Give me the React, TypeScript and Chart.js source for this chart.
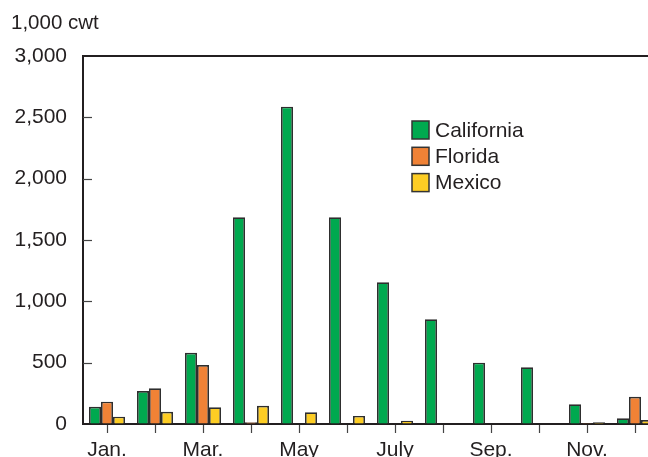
import React, { useEffect, useRef } from "react";
import { Chart, registerables } from "chart.js";

Chart.register(...registerables);

const months = ["Jan.", "Feb.", "Mar.", "Apr.", "May", "June", "July", "Aug.", "Sep.", "Oct.", "Nov.", "Dec."];
const california = [141, 269, 581, 1685, 2587, 1685, 1155, 853, 500, 462, 160, 46];
const florida = [182, 291, 481, 15, 0, 0, 0, 0, 0, 0, 8, 222];
const mexico = [60, 100, 136, 149, 95, 66, 27, 0, 0, 4, 14, 33];
const yTicks = [0, 500, 1000, 1500, 2000, 2500, 3000];
const unitLabel = "1,000 cwt";

const FONT = "'Liberation Sans', Arial, Helvetica, sans-serif";
const TEXT = "#231f20";

const decorPlugin = {
  id: "decor",
  afterDraw(chart: any) {
    const { ctx, chartArea, scales } = chart;
    const y = scales.y;
    ctx.save();
    // top border
    ctx.strokeStyle = "#231f20";
    ctx.lineWidth = 2;
    ctx.beginPath();
    ctx.moveTo(chartArea.left - 1, chartArea.top);
    ctx.lineTo(chartArea.right, chartArea.top);
    ctx.stroke();
    // inward y ticks
    ctx.lineWidth = 1.2;
    ctx.strokeStyle = "#444";
    yTicks.forEach((v) => {
      if (v === 0 || v === 3000) return;
      const py = Math.round(y.getPixelForValue(v)) + 0.5;
      ctx.beginPath();
      ctx.moveTo(chartArea.left, py);
      ctx.lineTo(chartArea.left + 9, py);
      ctx.stroke();
    });
    // unit label
    ctx.fillStyle = TEXT;
    ctx.font = `20.5px ${FONT}`;
    ctx.textAlign = "left";
    ctx.textBaseline = "alphabetic";
    ctx.fillText(unitLabel, 11, 29);
    // legend
    const ds = chart.data.datasets;
    const lx = 412;
    const ly0 = 121;
    ds.forEach((d: any, i: number) => {
      const by = ly0 + i * 26.3;
      ctx.fillStyle = d.backgroundColor;
      ctx.fillRect(lx, by, 17, 18);
      ctx.strokeStyle = "#333";
      ctx.lineWidth = 1.5;
      ctx.strokeRect(lx, by, 17, 18);
      ctx.fillStyle = TEXT;
      ctx.font = `21px ${FONT}`;
      ctx.textBaseline = "middle";
      ctx.fillText(d.label, lx + 23, by + 10);
    });
    ctx.restore();
  },
};

export default function App() {
  const ref = useRef<HTMLCanvasElement>(null);
  useEffect(() => {
    if (!ref.current) return;
    const chart = new Chart(ref.current, {
      type: "bar",
      data: {
        labels: months,
        datasets: [
          { label: "California", data: california, backgroundColor: "#00a94f", borderColor: "#2e2e2e", borderWidth: 1.7 },
          { label: "Florida", data: florida, backgroundColor: "#f08236", borderColor: "#2e2e2e", borderWidth: 1.7 },
          { label: "Mexico", data: mexico, backgroundColor: "#fdcd24", borderColor: "#2e2e2e", borderWidth: 1.7 },
        ],
      },
      options: {
        responsive: false,
        animation: false,
        layout: { padding: { top: 56, right: 21, left: 0, bottom: 0 } },
        datasets: { bar: { categoryPercentage: 0.75, barPercentage: 1 } } as any,
        plugins: { legend: { display: false }, tooltip: { enabled: false }, title: { display: false } },
        scales: {
          x: {
            offset: true,
            grid: { display: true, drawOnChartArea: false, offset: false, tickLength: 9, tickColor: "#444", tickWidth: 1.2 } as any,
            border: { display: true, color: "#231f20", width: 2 },
            ticks: {
              autoSkip: false,
              maxRotation: 0,
              padding: 5,
              color: TEXT,
              font: { family: FONT, size: 21 },
              callback: (_v: any, i: number) => (i % 2 === 0 ? months[i] : ""),
            },
            afterFit: (s: any) => { s.height = 46; },
          },
          y: {
            min: 0,
            max: 3000,
            grid: { display: true, drawOnChartArea: false, drawTicks: true, tickLength: 8, tickColor: "rgba(0,0,0,0)" },
            border: { display: true, color: "#231f20", width: 2 },
            ticks: {
              stepSize: 500,
              padding: 8,
              color: TEXT,
              font: { family: FONT, size: 21 },
              callback: (v: any) => Number(v).toLocaleString("en-US"),
            },
            afterFit: (s: any) => { s.width = 83; },
          },
        },
      },
      plugins: [decorPlugin],
    });
    return () => chart.destroy();
  }, []);
  return (
    <div style={{ position: "absolute", left: 0, top: 0, width: 648, height: 457, overflow: "hidden", background: "#fff" }}>
      <canvas ref={ref} width={680} height={470} style={{ display: "block" }} />
    </div>
  );
}
